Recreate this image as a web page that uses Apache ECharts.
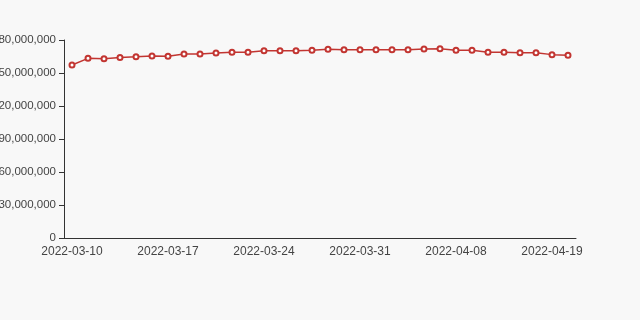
<!DOCTYPE html>
<html><head><meta charset="utf-8">
<script src="https://cdn.jsdelivr.net/npm/echarts@6/dist/echarts.min.js"></script>
<style>html,body{margin:0;padding:0;background:#f8f8f8}#c{width:640px;height:320px}</style>
</head><body><div id="c"></div>
<script>
var dates = ['2022-03-10','2022-03-11','2022-03-12','2022-03-14','2022-03-15','2022-03-16','2022-03-17','2022-03-18','2022-03-19','2022-03-21','2022-03-22','2022-03-23','2022-03-24','2022-03-25','2022-03-26','2022-03-28','2022-03-29','2022-03-30','2022-03-31','2022-04-01','2022-04-02','2022-04-05','2022-04-06','2022-04-07','2022-04-08','2022-04-11','2022-04-12','2022-04-13','2022-04-14','2022-04-15','2022-04-19','2022-04-20'];
var values = [157300000,163300000,163000000,164200000,164800000,165500000,165300000,167300000,167300000,168200000,168800000,168800000,170300000,170300000,170300000,170600000,171500000,171200000,171200000,171200000,171200000,171200000,171800000,172100000,170600000,170600000,168800000,168800000,168500000,168500000,166700000,166100000];
var yTicks = {min:0, max:180000000, interval:30000000};
var chart = echarts.init(document.getElementById('c'));
chart.setOption({
  backgroundColor:'#f8f8f8',
  animation:false,
  grid:{left:64,right:64,top:40,bottom:82,containLabel:false,outerBoundsMode:'none'},
  xAxis:{type:'category',data:dates,boundaryGap:true,
    axisLine:{lineStyle:{color:'#333'}},
    axisTick:{interval:5,lineStyle:{color:'#333'}},
    axisLabel:{interval:5,color:'#444',fontSize:12}},
  yAxis:{type:'value',min:yTicks.min,max:yTicks.max,interval:yTicks.interval,
    axisLine:{show:true,lineStyle:{color:'#333'}},
    axisTick:{show:true,lineStyle:{color:'#333'}},
    splitLine:{show:false},
    axisLabel:{color:'#444',fontSize:11.5,formatter:function(v){return v.toLocaleString('en-US');}}},
  series:[{type:'line',data:values,symbol:'emptyCircle',symbolSize:5,
    itemStyle:{color:'#c23531',borderWidth:1},lineStyle:{color:'#c23531',width:1.5}}]
});
</script></body></html>
